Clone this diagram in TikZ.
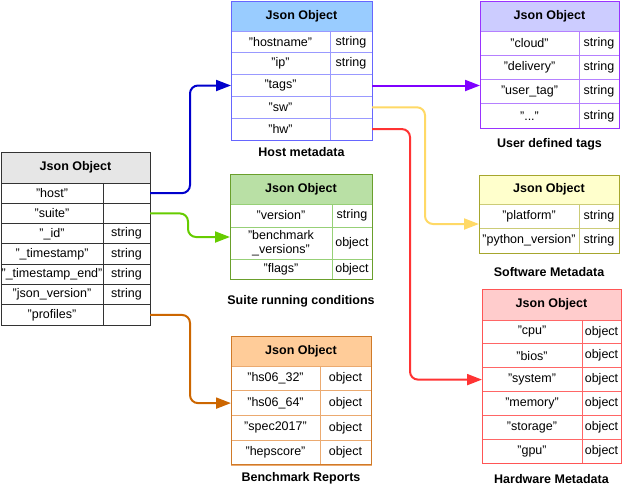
\documentclass[tikz,border=0pt]{standalone}
\usepackage{fontspec}
\setmainfont{Liberation Sans}
\usepackage{xcolor}
\usepackage{tikz}
\usetikzlibrary{arrows.meta}

\definecolor{rootfill}{HTML}{E6E6E6}
\definecolor{rootline}{HTML}{333333}
\definecolor{hostfill}{HTML}{99CCFF}
\definecolor{hostline}{HTML}{9999FF}
\definecolor{hostrim}{HTML}{6666FF}
\definecolor{tagsfill}{HTML}{CCCCFF}
\definecolor{tagsline}{HTML}{B580FF}
\definecolor{tagsrim}{HTML}{9933FF}
\definecolor{suitefill}{HTML}{B9E0A5}
\definecolor{suiteline}{HTML}{97D077}
\definecolor{suiterim}{HTML}{6A9F2C}
\definecolor{softfill}{HTML}{FFFFCC}
\definecolor{softline}{HTML}{CCCC77}
\definecolor{softrim}{HTML}{A6A62D}
\definecolor{benchfill}{HTML}{FFCC99}
\definecolor{benchline}{HTML}{EBAA70}
\definecolor{benchrim}{HTML}{D07A28}
\definecolor{hwfill}{HTML}{FFCCCC}
\definecolor{hwline}{HTML}{FF6666}
\definecolor{hwrim}{HTML}{FF5555}
\definecolor{linkblue}{HTML}{0000CC}
\definecolor{linkgreen}{HTML}{66CC00}
\definecolor{linkorange}{HTML}{CC6600}
\definecolor{linkpurple}{HTML}{7F00FF}
\definecolor{linkyellow}{HTML}{FFD966}
\definecolor{linkred}{HTML}{FF3333}

\begin{document}
\begin{tikzpicture}[x=1pt, y=-1pt,
    every node/.style={font=\fontsize{12.5}{14}\selectfont},
    cell/.style={draw, rectangle, inner sep=0pt, outer sep=0pt, align=center, line width=0.9pt},
    head/.style={cell, font=\fontsize{12.5}{14}\selectfont\bfseries},
    caption/.style={font=\fontsize{12.5}{14}\selectfont\bfseries},
    rim/.style={line width=1pt},
    link/.style={line width=2pt, rounded corners=8pt, -{Triangle[length=15pt, width=11pt]}},
    rootkey/.style={cell, draw=rootline, minimum width=102pt, minimum height=20.3pt},
    roottype/.style={cell, draw=rootline, minimum width=47pt, minimum height=20.3pt},
    hostkey/.style={cell, draw=hostline, minimum width=99pt, minimum height=21.8pt},
    hosttype/.style={cell, draw=hostline, minimum width=42pt, minimum height=21.8pt},
    tagskey/.style={cell, draw=tagsline, minimum width=99pt, minimum height=24.25pt},
    tagstype/.style={cell, draw=tagsline, minimum width=40pt, minimum height=24.25pt},
    suitekey/.style={cell, draw=suiteline, minimum width=102pt},
    suitetype/.style={cell, draw=suiteline, minimum width=40pt},
    softkey/.style={cell, draw=softline, minimum width=100pt},
    softtype/.style={cell, draw=softline, minimum width=40pt},
    benchkey/.style={cell, draw=benchline, minimum width=89pt, minimum height=24.75pt},
    benchtype/.style={cell, draw=benchline, minimum width=51pt, minimum height=24.75pt},
    hwkey/.style={cell, draw=hwline, minimum width=100pt, minimum height=23.83pt},
    hwtype/.style={cell, draw=hwline, minimum width=39pt, minimum height=23.83pt}]
  \useasboundingbox (0,0) rectangle (622,491);

  % Root object
  \node[head, fill=rootfill, draw=rootline, minimum width=149pt, minimum height=31pt] (m-hd) at (75.5,167.5) {Json Object};
  \node[rootkey] (m-host) at (52,193.15) {"host"};
  \node[roottype] (m-host-t) at (126.5,193.15) {};
  \node[rootkey] (m-suite) at (52,213.45) {"suite"};
  \node[roottype] (m-suite-t) at (126.5,213.45) {};
  \node[rootkey] (m-id) at (52,233.75) {"\_id"};
  \node[roottype] (m-id-t) at (126.5,233.75) {string};
  \node[rootkey] (m-ts) at (52,254.05) {"\_timestamp"};
  \node[roottype] (m-ts-t) at (126.5,254.05) {string};
  \node[rootkey] (m-tsend) at (52,274.35) {"\_timestamp\_end"};
  \node[roottype] (m-tsend-t) at (126.5,274.35) {string};
  \node[rootkey] (m-jv) at (52,294.65) {"json\_version"};
  \node[roottype] (m-jv-t) at (126.5,294.65) {string};
  \node[rootkey] (m-prof) at (52,314.95) {"profiles"};
  \node[roottype] (m-prof-t) at (126.5,314.95) {};
  \draw[rim, draw=rootline] (m-hd.north west) rectangle (m-prof-t.south east);

  % Host metadata
  \node[head, fill=hostfill, draw=hostline, minimum width=141pt, minimum height=30pt] (h-hd) at (301.5,16) {Json Object};
  \node[hostkey] (h-name) at (280.5,41.9) {"hostname"};
  \node[hosttype] (h-name-t) at (351,41.9) {string};
  \node[hostkey] (h-ip) at (280.5,63.7) {"ip"};
  \node[hosttype] (h-ip-t) at (351,63.7) {string};
  \node[hostkey] (h-tags) at (280.5,85.5) {"tags"};
  \node[hosttype] (h-tags-t) at (351,85.5) {};
  \node[hostkey] (h-sw) at (280.5,107.3) {"sw"};
  \node[hosttype] (h-sw-t) at (351,107.3) {};
  \node[hostkey] (h-hw) at (280.5,129.1) {"hw"};
  \node[hosttype] (h-hw-t) at (351,129.1) {};
  \draw[rim, draw=hostrim] (h-hd.north west) rectangle (h-hw-t.south east);
  \node[caption] (h-cap) at (301.5,152) {Host metadata};

  % User defined tags
  \node[head, fill=tagsfill, draw=tagsline, minimum width=139pt, minimum height=30pt] (u-hd) at (549.5,16) {Json Object};
  \node[tagskey] (u-cloud) at (529.5,43.1) {"cloud"};
  \node[tagstype] (u-cloud-t) at (599,43.1) {string};
  \node[tagskey] (u-deliv) at (529.5,67.4) {"delivery"};
  \node[tagstype] (u-deliv-t) at (599,67.4) {string};
  \node[tagskey] (u-user) at (529.5,91.6) {"user\_tag"};
  \node[tagstype] (u-user-t) at (599,91.6) {string};
  \node[tagskey] (u-more) at (529.5,115.9) {"..."};
  \node[tagstype] (u-more-t) at (599,115.9) {string};
  \draw[rim, draw=tagsrim] (u-hd.north west) rectangle (u-more-t.south east);
  \node[caption] (u-cap) at (549.5,144) {User defined tags};

  % Suite running conditions
  \node[head, fill=suitefill, draw=suiteline, minimum width=142pt, minimum height=30pt] (s-hd) at (301,189) {Json Object};
  \node[suitekey, minimum height=23pt] (s-ver) at (281,215.5) {"version"};
  \node[suitetype, minimum height=23pt] (s-ver-t) at (352,215.5) {string};
  \node[suitekey, minimum height=32pt] (s-bench) at (281,243) {"benchmark\\\_versions"};
  \node[suitetype, minimum height=32pt] (s-bench-t) at (352,243) {object};
  \node[suitekey, minimum height=20pt] (s-flags) at (281,269) {"flags"};
  \node[suitetype, minimum height=20pt] (s-flags-t) at (352,269) {object};
  \draw[rim, draw=suiterim] (s-hd.north west) rectangle (s-flags-t.south east);
  \node[caption] (s-cap) at (301,301) {Suite running conditions};

  % Software metadata
  \node[head, fill=softfill, draw=softline, minimum width=140pt, minimum height=29pt] (w-hd) at (549,189.5) {Json Object};
  \node[softkey, minimum height=24pt] (w-plat) at (529,216) {"platform"};
  \node[softtype, minimum height=24pt] (w-plat-t) at (599,216) {string};
  \node[softkey, minimum height=25pt] (w-py) at (529,240.5) {"python\_version"};
  \node[softtype, minimum height=25pt] (w-py-t) at (599,240.5) {string};
  \draw[rim, draw=softrim] (w-hd.north west) rectangle (w-py-t.south east);
  \node[caption] (w-cap) at (549,272) {Software Metadata};

  % Benchmark reports
  \node[head, fill=benchfill, draw=benchline, minimum width=140pt, minimum height=30pt] (b-hd) at (301,351) {Json Object};
  \node[benchkey] (b-32) at (275.5,378.4) {"hs06\_32"};
  \node[benchtype] (b-32-t) at (345.5,378.4) {object};
  \node[benchkey] (b-64) at (275.5,403.1) {"hs06\_64"};
  \node[benchtype] (b-64-t) at (345.5,403.1) {object};
  \node[benchkey] (b-spec) at (275.5,427.9) {"spec2017"};
  \node[benchtype] (b-spec-t) at (345.5,427.9) {object};
  \node[benchkey] (b-hep) at (275.5,452.6) {"hepscore"};
  \node[benchtype] (b-hep-t) at (345.5,452.6) {object};
  \draw[rim, draw=benchrim] (b-hd.north west) rectangle (b-hep-t.south east);
  \node[caption] (b-cap) at (301,478) {Benchmark Reports};

  % Hardware metadata
  \node[head, fill=hwfill, draw=hwline, minimum width=139pt, minimum height=31pt] (d-hd) at (551.5,304.5) {Json Object};
  \node[hwkey] (d-cpu) at (532,331.9) {"cpu"};
  \node[hwtype] (d-cpu-t) at (601.5,331.9) {object};
  \node[hwkey] (d-bios) at (532,355.7) {"bios"};
  \node[hwtype] (d-bios-t) at (601.5,355.7) {object};
  \node[hwkey] (d-sys) at (532,379.6) {"system"};
  \node[hwtype] (d-sys-t) at (601.5,379.6) {object};
  \node[hwkey] (d-mem) at (532,403.4) {"memory"};
  \node[hwtype] (d-mem-t) at (601.5,403.4) {object};
  \node[hwkey] (d-stor) at (532,427.2) {"storage"};
  \node[hwtype] (d-stor-t) at (601.5,427.2) {object};
  \node[hwkey] (d-gpu) at (532,451.1) {"gpu"};
  \node[hwtype] (d-gpu-t) at (601.5,451.1) {object};
  \draw[rim, draw=hwrim] (d-hd.north west) rectangle (d-gpu-t.south east);
  \node[caption] (d-cap) at (551.5,479) {Hardware Metadata};

  % Links between objects
  \draw[link, draw=linkblue] (m-host-t.east) -- ++(40,0) |- (h-tags.west);
  \draw[link, draw=linkgreen] (m-suite-t.east) -- ++(38,0) |- ([yshift=6pt]s-bench.west);
  \draw[link, draw=linkorange] (m-prof-t.east) -- ++(40,0) |- (b-64.west);
  \draw[link, draw=linkpurple] (h-tags-t.east) -- (h-tags-t.east -| u-user.west);
  \draw[link, draw=linkyellow] (h-sw-t.east) -- ++(53,0) |- ([yshift=-8pt]w-plat.west);
  \draw[link, draw=linkred] (h-hw-t.east) -- ++(38,0) |- (d-sys.west);
\end{tikzpicture}
\end{document}
